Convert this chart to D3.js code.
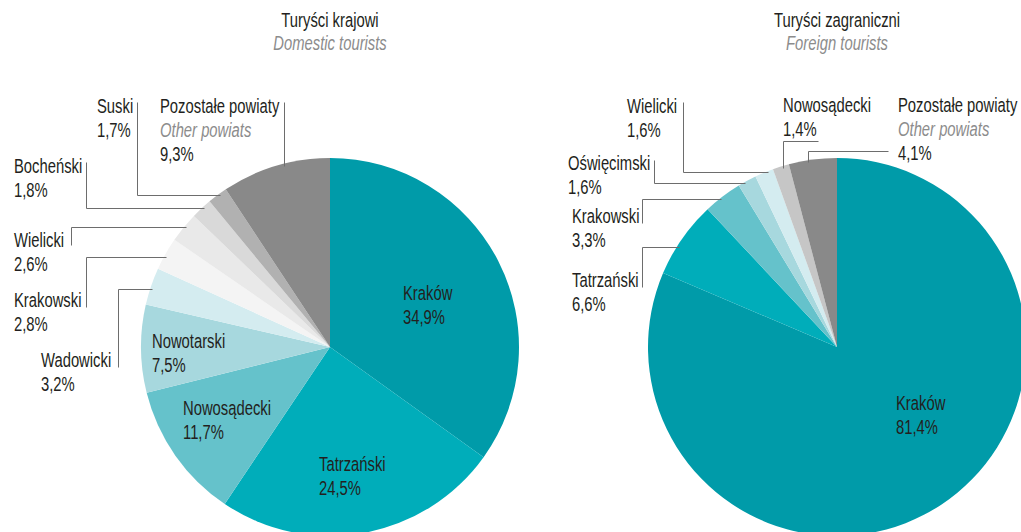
<!DOCTYPE html>
<html>
<head>
<meta charset="utf-8">
<script src="https://cdn.jsdelivr.net/npm/d3@7"></script>
<style>
  body { margin: 0; background: #fff; overflow: hidden; }
  svg text {
    font-family: "Liberation Sans", Arial, sans-serif;
    font-size: 19.5px;
    fill: #231f20;
  }
  svg text .sub { font-style: italic; fill: #8c8c8c; }
</style>
</head>
<body>
<div id="chart"></div>
<script>
// domestic tourists
const domesticNames = ["Kraków", "Tatrzański", "Nowosądecki", "Nowotarski", "Wadowicki",
  "Krakowski", "Wielicki", "Bocheński", "Suski", "Pozostałe powiaty"];
const domesticValues = [34.9, 24.5, 11.7, 7.5, 3.2, 2.8, 2.6, 1.8, 1.7, 9.3];
const domesticColors = ["#009ba9", "#00adba", "#65c2cb", "#a7d8de", "#d4ecf0",
  "#f4f4f4", "#e9e9e9", "#d9d9d9", "#b1b1b1", "#898989"];

// foreign tourists
const foreignNames = ["Kraków", "Tatrzański", "Krakowski", "Oświęcimski", "Wielicki",
  "Nowosądecki", "Pozostałe powiaty"];
const foreignValues = [81.4, 6.6, 3.3, 1.6, 1.6, 1.4, 4.1];
const foreignColors = ["#009ba9", "#00adba", "#65c2cb", "#a7d8de", "#d4ecf0",
  "#c6c6c6", "#898989"];

const titles = [
  { pl: "Turyści krajowi", en: "Domestic tourists" },
  { pl: "Turyści zagraniczni", en: "Foreign tourists" }
];
const otherEn = "Other powiats";

// label placement; leader: points then a final run ('h' or 'v') to the pie edge
const domesticLabels = [
  { x: 403, y: 300 },
  { x: 319, y: 471 },
  { x: 183, y: 415 },
  { x: 152, y: 348 },
  { x: 41, y: 367, leader: { pts: [[118, 367], [118, 289]], to: "h" } },
  { x: 14, y: 307, leader: { pts: [[86, 307], [86, 257]], to: "h" } },
  { x: 14, y: 247, leader: { pts: [[71, 245], [71, 227]], to: "h" } },
  { x: 14, y: 173, leader: { pts: [[86, 162], [86, 208]], to: "h" } },
  { x: 97, y: 113, leader: { pts: [[137, 102], [137, 195]], to: "h" } },
  { x: 160, y: 113, leader: { pts: [[284, 102]], to: "v" } }
];
const foreignLabels = [
  { x: 896, y: 410 },
  { x: 572, y: 287, leader: { pts: [[642, 287], [642, 247]], to: "h" } },
  { x: 572, y: 223, leader: { pts: [[642, 223], [642, 199]], to: "h" } },
  { x: 568, y: 170, leader: { pts: [[654, 160], [654, 183]], to: "h" } },
  { x: 627, y: 113, leader: { pts: [[683, 102], [683, 172]], to: "h" } },
  { x: 783, y: 112, leader: { pts: [[818, 141], [783, 141]], to: "v" } },
  { x: 898, y: 112, leader: { pts: [[888, 151], [808, 151]], to: "v" } }
];

const width = 1021, height = 532;
const radius = 189;
const lineH = 24;
const narrow = 0.76; // squeeze to mimic a condensed face

const svg = d3.select("#chart").append("svg")
  .attr("width", width)
  .attr("height", height);

const plLocale = d3.formatLocale({ decimal: ",", thousands: " ", grouping: [3], currency: ["", " zł"] });
const pct = v => plLocale.format(".1f")(v) + "%";

const pie = d3.pie().sort(null).value(d => d.value);
const arc = d3.arc().innerRadius(0).outerRadius(radius);

function textBlock(x, y, anchor) {
  return svg.append("text")
    .attr("transform", `translate(${x},${y}) scale(${narrow},1)`)
    .attr("text-anchor", anchor || "start");
}

function drawPie(cx, cy, title, names, values, colors, labels) {
  const data = names.map((n, i) => ({ name: n, value: values[i], color: colors[i], label: labels[i] }));

  const g = svg.append("g").attr("transform", `translate(${cx},${cy})`);
  g.selectAll("path")
    .data(pie(data))
    .join("path")
    .attr("d", arc)
    .attr("fill", d => d.data.color);

  // title
  const t = textBlock(cx, 27, "middle");
  t.append("tspan").attr("x", 0).text(title.pl);
  t.append("tspan").attr("class", "sub").attr("x", 0).attr("dy", 23).text(title.en);

  // leaders
  const edgeX = y => cx - Math.sqrt(radius * radius - (y - cy) * (y - cy)) + 2;
  const edgeY = x => cy - Math.sqrt(radius * radius - (x - cx) * (x - cx)) + 2;
  data.forEach(d => {
    const L = d.label.leader;
    if (!L) return;
    const pts = L.pts.slice();
    const last = pts[pts.length - 1];
    pts.push(L.to === "h" ? [edgeX(last[1]), last[1]] : [last[0], edgeY(last[0])]);
    svg.append("path")
      .attr("d", d3.line()(pts.map(p => [Math.round(p[0]) + 0.5, Math.round(p[1]) + 0.5])))
      .attr("fill", "none")
      .attr("stroke", "#6d6d6d")
      .attr("stroke-width", 1);
  });

  // labels
  data.forEach(d => {
    const txt = textBlock(d.label.x, d.label.y);
    txt.append("tspan").attr("x", 0).text(d.name);
    if (d.name === "Pozostałe powiaty") {
      txt.append("tspan").attr("class", "sub").attr("x", 0).attr("dy", lineH).text(otherEn);
    }
    txt.append("tspan").attr("x", 0).attr("dy", lineH).text(pct(d.value));
  });
}

drawPie(330, 347, titles[0], domesticNames, domesticValues, domesticColors, domesticLabels);
drawPie(837, 347, titles[1], foreignNames, foreignValues, foreignColors, foreignLabels);
</script>
</body>
</html>
